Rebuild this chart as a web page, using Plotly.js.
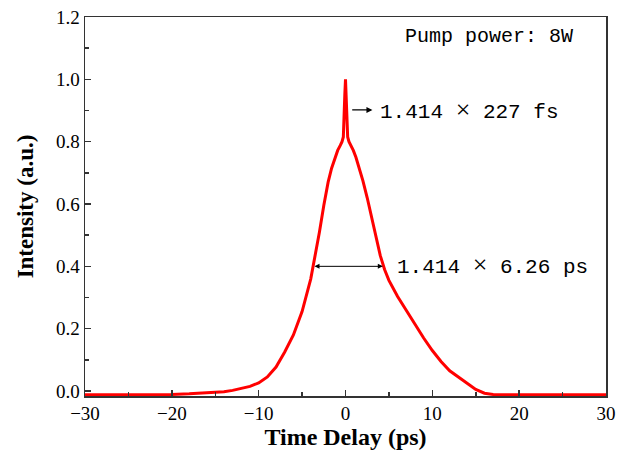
<!DOCTYPE html>
<html>
<head>
<meta charset="utf-8">
<script src="https://cdn.plot.ly/plotly-3.0.1.min.js"></script>
<style>html,body{margin:0;padding:0;background:#fff;}#chart{width:621px;height:455px;}</style>
</head>
<body>
<div id="chart"></div>
<script>
// Autocorrelation trace (time delay in ps, normalized intensity)
const delayPs = [-30,-25,-20,-18,-16,-14,-13,-12,-11,-10,-9,-8,-7,-6,-5,-4,-3.5,-3,-2.5,-2,-1.6,-1.2,-0.9,-0.6,-0.4,-0.25,-0.15,-0.08,0,0.08,0.15,0.25,0.4,0.6,0.9,1.2,1.6,2,2.5,3,3.5,4,4.5,5,6,7,8,9,10,11,12,13,14,15,16,17,18,20,25,30];
const intensity = [-0.012,-0.012,-0.011,-0.009,-0.006,-0.002,0.002,0.008,0.015,0.026,0.045,0.077,0.125,0.18,0.255,0.36,0.43,0.51,0.595,0.67,0.715,0.75,0.772,0.788,0.80,0.815,0.87,0.95,1.0,0.95,0.87,0.815,0.80,0.79,0.772,0.75,0.715,0.675,0.62,0.56,0.495,0.435,0.39,0.355,0.303,0.258,0.213,0.17,0.13,0.095,0.065,0.045,0.025,0.005,-0.007,-0.011,-0.012,-0.012,-0.012,-0.012];

const xTickVals = [-30,-20,-10,0,10,20,30];
const xTickText = ["\u221230","\u221220","\u221210","0","10","20","30"];
const yTickVals = [0,0.2,0.4,0.6,0.8,1.0,1.2];
const yTickText = ["0.0","0.2","0.4","0.6","0.8","1.0","1.2"];

const labelPump = "Pump power: 8W";
const timesSign = "<span style='font-family:Liberation Serif;font-size:26px'>\u00d7</span>";
const labelFs = "1.414 " + timesSign + " 227 fs";
const labelPs = "1.414 " + timesSign + " 6.26 ps";

const trace = {
  x: delayPs, y: intensity, type: 'scatter', mode: 'lines',
  line: {color: '#ff0000', width: 3}, hoverinfo: 'skip'
};

const axisCommon = {
  showgrid: false, zeroline: false, showline: true, linecolor: '#333', linewidth: 1.5,
  mirror: true, ticks: 'inside', ticklen: 6, tickwidth: 1.5, tickcolor: '#333',
  tickfont: {family: 'Liberation Serif, serif', size: 19, color: '#000'}
};

const layout = {
  width: 621, height: 455,
  margin: {l: 85, r: 15, t: 17, b: 59},
  paper_bgcolor: '#fff', plot_bgcolor: '#fff',
  showlegend: false,
  xaxis: Object.assign({}, axisCommon, {
    range: [-30, 30], tickmode: 'array', tickvals: xTickVals, ticktext: xTickText,
    minor: {ticks: 'inside', ticklen: 4, tickwidth: 1.5, tickcolor: '#333', dtick: 5, showgrid: false},
    title: {text: 'Time Delay (ps)', font: {family: 'Liberation Serif, serif', size: 24, color: '#000', weight: 'bold'}, standoff: 2}
  }),
  yaxis: Object.assign({}, axisCommon, {
    range: [-0.016, 1.2], tickmode: 'array', tickvals: yTickVals, ticktext: yTickText,
    minor: {ticks: 'inside', ticklen: 4, tickwidth: 1.5, tickcolor: '#333', dtick: 0.1, tick0: 0, showgrid: false},
    title: {text: 'Intensity (a.u.)', font: {family: 'Liberation Serif, serif', size: 23, color: '#000', weight: 'bold'}, standoff: 16}
  }),
  annotations: [
    {x: 6.63, y: 1.137, xref: 'x', yref: 'y', xanchor: 'left', yanchor: 'middle', showarrow: false,
     text: labelPump, font: {family: 'Liberation Mono, monospace', size: 20, color: '#000'}},
    {x: 3.75, y: 0.902, xref: 'x', yref: 'y', xanchor: 'left', yanchor: 'middle', showarrow: false,
     text: labelFs, font: {family: 'Liberation Mono, monospace', size: 21, color: '#000'}},
    {x: 3.1, y: 0.902, ax: 0.6, ay: 0.902, xref: 'x', yref: 'y', axref: 'x', ayref: 'y',
     text: '', showarrow: true, arrowhead: 2, arrowsize: 1, arrowwidth: 1.2, arrowcolor: '#000'},
    {x: 5.7, y: 0.406, xref: 'x', yref: 'y', xanchor: 'left', yanchor: 'middle', showarrow: false,
     text: labelPs, font: {family: 'Liberation Mono, monospace', size: 21, color: '#000'}},
    {x: 4.3, y: 0.40, ax: -3.74, ay: 0.40, xref: 'x', yref: 'y', axref: 'x', ayref: 'y',
     text: '', showarrow: true, arrowhead: 2, startarrowhead: 2, arrowside: 'end+start', arrowsize: 1, startarrowsize: 1, arrowwidth: 1, arrowcolor: '#000'}
  ]
};

Plotly.newPlot('chart', [trace], layout, {displayModeBar: false, staticPlot: true});
</script>
</body>
</html>
